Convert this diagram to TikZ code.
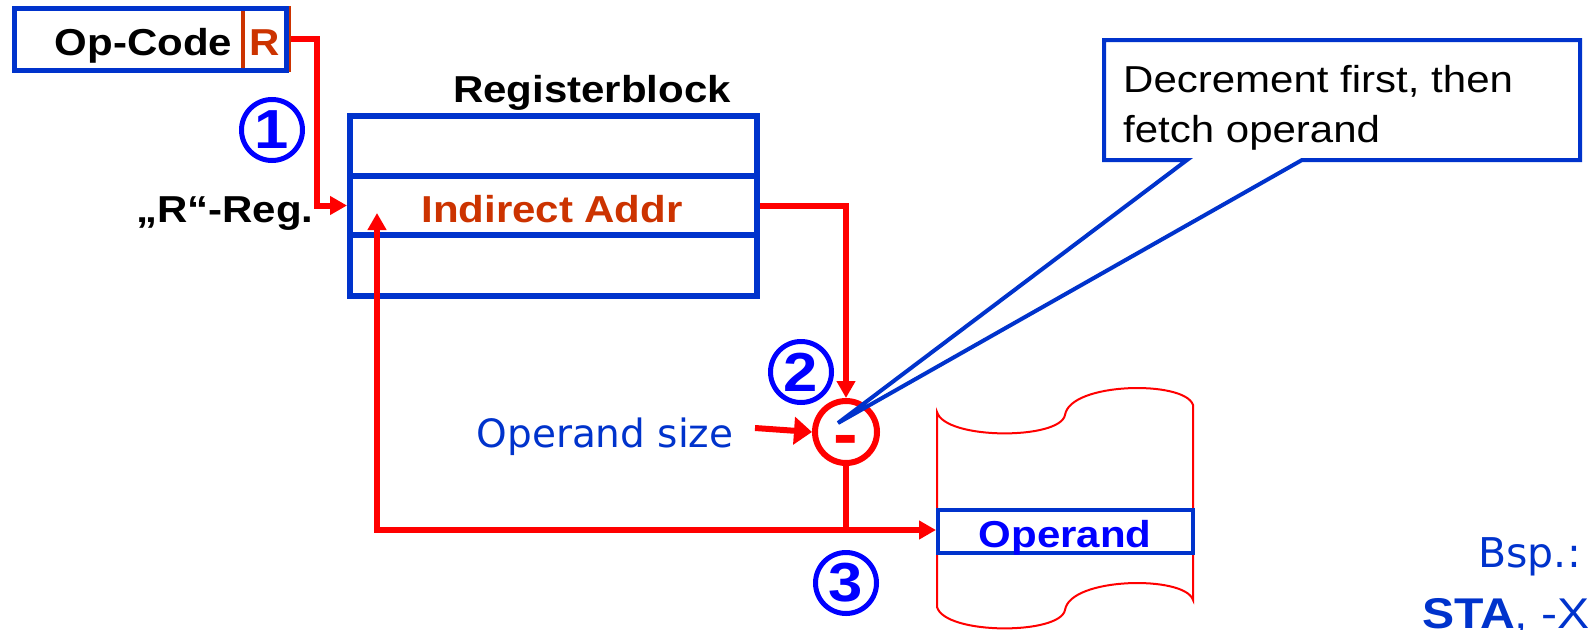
\documentclass[tikz,border=0pt]{standalone}
\usepackage{fontspec}
\setmainfont[FakeStretch=1.12]{Liberation Sans}
\newfontfamily\comicfont{DejaVu Sans}
\usetikzlibrary{arrows.meta,calc}
\definecolor{boxblue}{RGB}{0,51,204}
\definecolor{numblue}{RGB}{0,0,255}
\definecolor{addrorange}{RGB}{204,51,0}
\definecolor{wirered}{RGB}{255,0,0}
\tikzset{
  lbl/.style={inner sep=0pt, font=\fontsize{37.5}{45}\selectfont\bfseries},
  regcell/.style={draw=boxblue, line width=6pt, minimum width=407pt, inner sep=0pt},
  redline/.style={draw=wirered, line width=6pt},
  redarrow/.style={redline, -{Triangle[length=17pt,width=18pt]}},
  numcirc/.style={circle, draw=numblue, line width=5pt, minimum size=61pt, inner sep=0pt,
    text=numblue, font=\fontsize{55}{55}\selectfont\bfseries},
  calloutst/.style={draw=boxblue, line width=4pt, line join=miter},
  comic/.style={inner sep=0pt, text=boxblue, font=\comicfont\fontsize{39}{39}\selectfont}
}
\begin{document}
\begin{tikzpicture}[x=1pt,y=-1pt]
\useasboundingbox (0,0) rectangle (1589,629);
\clip (0,0) rectangle (1589,629);
\fill[white] (0,0) rectangle (1589,629);

% storage (memory) shape
\draw[wirered, line width=2pt] (937,412) .. controls (945,440) and (1060,440) .. (1065,415)
  .. controls (1070,382) and (1185,380) .. (1193,405) -- (1193,600)
  .. controls (1185,575) and (1070,577) .. (1065,610)
  .. controls (1060,635) and (945,635) .. (937,607) -- cycle;
\node[draw=boxblue, fill=white, line width=4pt, minimum width=255pt, minimum height=43pt, inner sep=0pt] (operand) at (1065.5,531.5) {};
\node[lbl, anchor=base, text=numblue] (operandtxt) at (1065,547) {Operand};

% instruction word
\node[draw=addrorange, line width=4pt, minimum width=46pt, minimum height=62pt, inner sep=0pt] (rcell) at (266,39) {};
\node[draw=boxblue, line width=5pt, minimum width=272pt, minimum height=62pt, inner sep=0pt] (opcode) at (150,39) {};
\node[lbl, anchor=base] (opcodetxt) at (143.5,55) {Op-Code};
\node[lbl, anchor=base, text=addrorange] (rtxt) at (265,55) {R};

% register block
\node[lbl, anchor=base] (regtitle) at (592,102) {Registerblock};
\node[regcell, minimum height=60pt] (reg1) at (553.5,146) {};
\node[regcell, minimum height=61pt] (reg3) at (553.5,265.5) {};
\node[regcell, minimum height=59pt] (reg2) at (553.5,205.5) {};
\node[lbl, anchor=base, text=addrorange] (addrtxt) at (552,222) {Indirect Addr};
\node[lbl, anchor=base] (rregtxt) at (225,222) {„R“-Reg.};

% subtractor
\node[circle, draw=wirered, line width=6pt, minimum size=62pt, inner sep=0pt] (minus) at (846,432) {};
\node[anchor=base, inner sep=0pt, text=wirered, font=\fontsize{66}{66}\selectfont\bfseries] (minustxt) at (846,456) {-};

\coordinate (junc) at (846,530);
\coordinate (regin) at (377,213);
\coordinate (szstart) at (755,428);
\coordinate (ctip) at (838,423);

% red wires
\draw[redarrow] (rcell.east) -- ++(26,0) |- (reg2.west);
\draw[redarrow] (reg2.east) -| (minus.north);
\draw[redline, line cap=rect] (minus.south) -- (junc);
\draw[redarrow] (junc) -- (junc -| operand.west);
\draw[redarrow] (junc) -| (regin);
\draw[redline, -{Triangle[length=18pt,width=27pt]}] (szstart) -- (minus.west);

% step numbers
\node[numcirc] (n1) at (272,130) {1};
\node[numcirc] (n2) at (801,372) {2};
\node[numcirc] (n3) at (846,583) {3};

\node[comic, anchor=base] (opsize) at (605,447) {Operand size};

% callout
\draw[calloutst] (1187,160) -- (1104,160) -- (1104,40) -- (1580,40) -- (1580,160) -- (1302,160) -- (ctip) -- cycle;
\node[anchor=base west, inner sep=0pt, font=\fontsize{37.5}{45}\selectfont] (callout1) at (1123,92) {Decrement first, then};
\node[anchor=base west, inner sep=0pt, font=\fontsize{37.5}{45}\selectfont] (callout2) at (1123,142) {fetch operand};

% example
\node[comic, anchor=base east, font=\comicfont\fontsize{41}{41}\selectfont] (bsp) at (1581,567) {Bsp.:};
\node[anchor=base east, inner sep=0pt, text=boxblue, font=\fontsize{43}{43}\selectfont] (sta) at (1590,628) {{\bfseries STA}, -X};
\end{tikzpicture}
\end{document}
